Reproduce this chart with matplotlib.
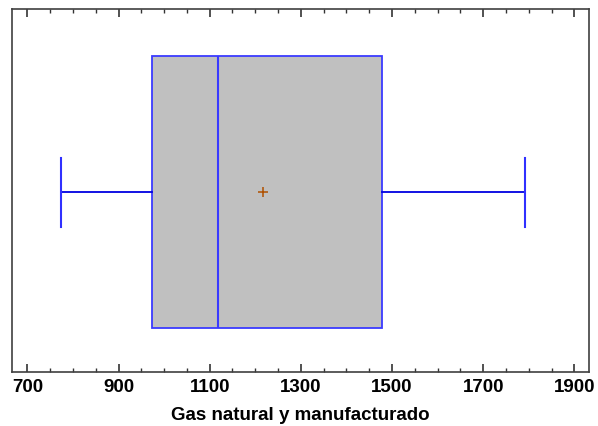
import matplotlib
matplotlib.use("Agg")
import matplotlib.pyplot as plt
from matplotlib.ticker import MultipleLocator

# Five-number summary plus mean for the series
label = "Gas natural y manufacturado"
whisker_low = 774
q1 = 973
median = 1118
mean = 1216
q3 = 1478
whisker_high = 1792

major_ticks = [700, 900, 1100, 1300, 1500, 1700, 1900]

plt.rcParams['font.family'] = ['Liberation Sans', 'DejaVu Sans']

fig = plt.figure(figsize=(5.98, 4.27), dpi=100)
ax = fig.add_axes([0.0201, 0.1265, 0.9655, 0.8501])

stats = [dict(whislo=whisker_low, q1=q1, med=median, mean=mean,
              q3=q3, whishi=whisker_high, fliers=[], label=label)]

ax.bxp(stats, positions=[0.495], widths=[0.75], capwidths=[0.19],
       orientation='horizontal', showmeans=True, patch_artist=True,
       boxprops=dict(facecolor='#c0c0c0', edgecolor='#3a3aff', linewidth=1.3),
       medianprops=dict(color='#3a3aff', linewidth=1.5),
       whiskerprops=dict(color='#0000e0', linewidth=1.3),
       capprops=dict(color='#3030ff', linewidth=1.5),
       meanprops=dict(marker='+', markeredgecolor='#b05000',
                      markersize=7.5, markeredgewidth=1.1))

ax.set_xlim(666.4, 1933)
ax.set_ylim(0, 1)
ax.set_yticks([])
ax.set_xticks(major_ticks)
ax.set_xticklabels([str(t) for t in major_ticks])
ax.xaxis.set_minor_locator(MultipleLocator(50))
ax.tick_params(axis='x', which='both', direction='in', top=True, bottom=True,
               color='#333333')
ax.tick_params(axis='x', which='major', length=6, width=1.2, pad=4,
               labelsize=13.5)
ax.tick_params(axis='x', which='minor', length=3, width=1.0)
for lbl in ax.get_xticklabels():
    lbl.set_fontweight('bold')

for s in ax.spines.values():
    s.set_color('#404040')
    s.set_linewidth(1.2)

ax.set_xlabel(label, fontsize=13.5, fontweight='bold', labelpad=8)

fig.savefig("out.png", dpi=100)
